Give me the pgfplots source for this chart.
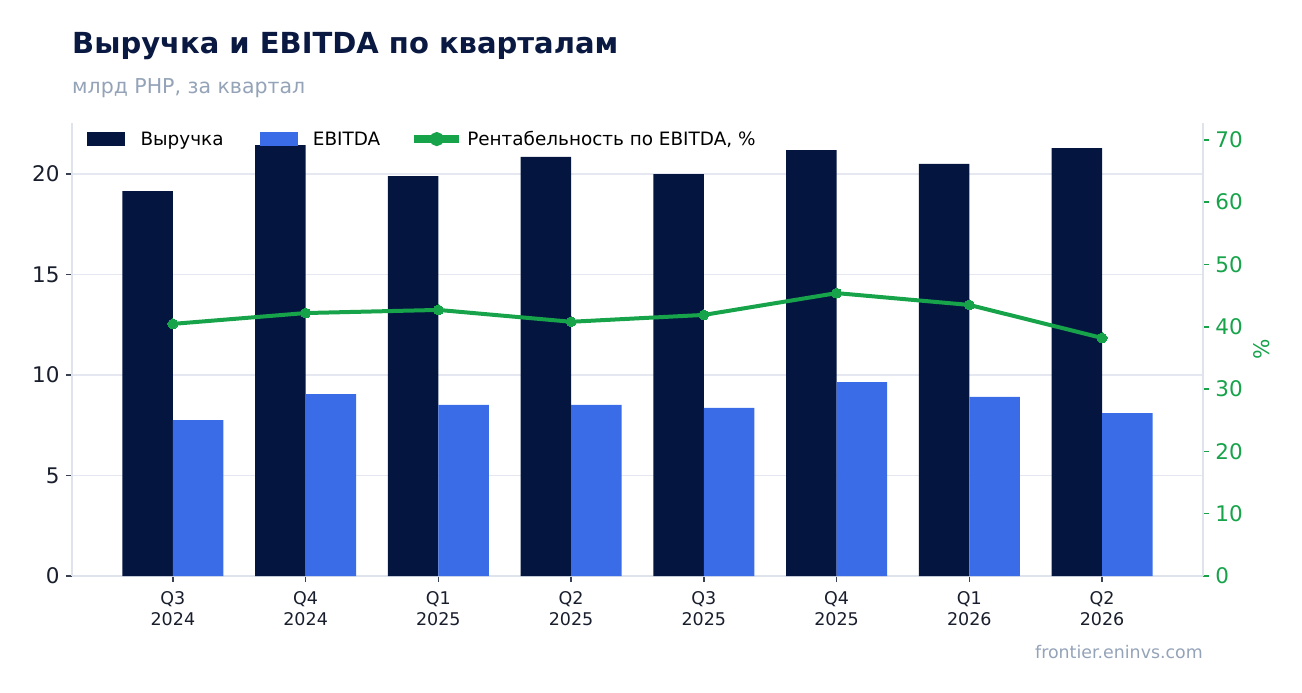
\documentclass[border=0pt]{standalone}
\usepackage{fontspec}
\setmainfont{DejaVu Sans}
\usepackage{pgfplots}
\pgfplotsset{compat=1.18}
\definecolor{revcol}{RGB}{4,22,64}
\definecolor{ebcol}{RGB}{59,108,231}
\definecolor{mgcol}{RGB}{22,163,74}
\definecolor{titlecol}{RGB}{10,25,65}
\definecolor{subcol}{RGB}{148,163,184}
\definecolor{gridcol}{RGB}{229,232,240}
\definecolor{spinecol}{RGB}{222,227,236}
\definecolor{tickcol}{RGB}{55,65,81}
\definecolor{labcol}{RGB}{25,30,45}
\begin{document}
\begin{tikzpicture}
\path[use as bounding box] (0,0) rectangle (1302bp,693bp);
\node[anchor=base west, text=titlecol, font=\fontsize{29bp}{33bp}\selectfont\bfseries, inner sep=0pt] at (72bp,639bp) {Выручка и EBITDA по кварталам};
\node[anchor=base west, text=subcol, font=\fontsize{20.5bp}{24bp}\selectfont, inner sep=0pt] at (72bp,599bp) {млрд РНР, за квартал};
\node[anchor=base east, text=subcol, font=\fontsize{17.4bp}{21bp}\selectfont, inner sep=0pt] at (1203bp,35bp) {frontier.eninvs.com};
\begin{axis}[
  at={(72bp,117bp)}, anchor=south west,
  scale only axis, width=1131bp, height=453bp,
  xmin=-0.76, xmax=7.76, ymin=0, ymax=22.54,
  axis x line*=bottom, axis y line*=left,
  axis line style={draw=spinecol, line width=1.5bp},
  tick align=outside, major tick length=6bp,
  tick style={draw=tickcol, line width=1.5bp},
  xtick={0,...,7},
  xticklabels={{Q3\\2024},{Q4\\2024},{Q1\\2025},{Q2\\2025},{Q3\\2025},{Q4\\2025},{Q1\\2026},{Q2\\2026}},
  xticklabel style={align=center, text=labcol, font=\fontsize{17.5bp}{21bp}\selectfont, inner sep=2bp, yshift=-7bp},
  ytick={0,5,10,15,20},
  yticklabel style={text=labcol, font=\fontsize{21.5bp}{25bp}\selectfont, xshift=-3bp},
  /pgf/number format/assume math mode=true,
  ymajorgrids, grid style={draw=gridcol, line width=1.5bp},
  ybar, bar width=0.38,
  clip=false,
]
\addplot[fill=revcol, draw=none, bar shift=-0.19] coordinates {(0,19.15) (1,21.44) (2,19.90) (3,20.85) (4,20.00) (5,21.19) (6,20.50) (7,21.29)};
\addplot[fill=ebcol, draw=none, bar shift=0.19] coordinates {(0,7.76) (1,9.05) (2,8.51) (3,8.51) (4,8.36) (5,9.65) (6,8.91) (7,8.11)};
\end{axis}
\begin{axis}[
  at={(72bp,117bp)}, anchor=south west,
  scale only axis, width=1131bp, height=453bp,
  xmin=-0.76, xmax=7.76, ymin=0, ymax=72.7,
  axis x line=none, axis y line*=right,
  axis line style={draw=spinecol, line width=1.5bp},
  tick align=outside, major tick length=6bp,
  ytick={0,10,...,70},
  y tick style={draw=mgcol, line width=1.5bp},
  yticklabel style={text=mgcol, font=\fontsize{21.5bp}{25bp}\selectfont, xshift=3bp},
  /pgf/number format/assume math mode=true,
  ylabel={\%},
  every axis y label/.style={at={(axis description cs:1,0.5)}, xshift=59bp, rotate=90, anchor=center, text=mgcol, font=\fontsize{21.5bp}{25bp}\selectfont},
  legend columns=3,
  legend style={draw=none, fill=none, at={(axis description cs:0,1)}, anchor=north west, xshift=15bp, yshift=-6bp,
    font=\fontsize{18.4bp}{22bp}\selectfont, inner sep=0pt,
    /tikz/every odd column/.append style={column sep=14bp},
    /tikz/every even column/.append style={column sep=34bp}},
  legend cell align=left,
]
\addlegendimage{legend image code/.code={\fill[revcol] (0bp,-6.5bp) rectangle (37bp,6.5bp);}}
\addlegendentry{Выручка}
\addlegendimage{legend image code/.code={\fill[ebcol] (0bp,-6.5bp) rectangle (37bp,6.5bp);}}
\addlegendentry{EBITDA\kern-2bp}
\addplot[color=mgcol, line width=4bp, mark=*, mark size=5bp, mark options={fill=mgcol, draw=mgcol, line width=0pt},
  legend image code/.code={\fill[mgcol] (0bp,-2bp) rectangle (41bp,2bp); \fill[mgcol] (20.5bp,0bp) circle (5bp);}]
  coordinates {(0,40.46) (1,42.2) (2,42.7) (3,40.8) (4,41.9) (5,45.4) (6,43.5) (7,38.2)};
\addlegendentry{\kern-8bp Рентабельность по EBITDA, \%}
\end{axis}
\end{tikzpicture}
\end{document}
